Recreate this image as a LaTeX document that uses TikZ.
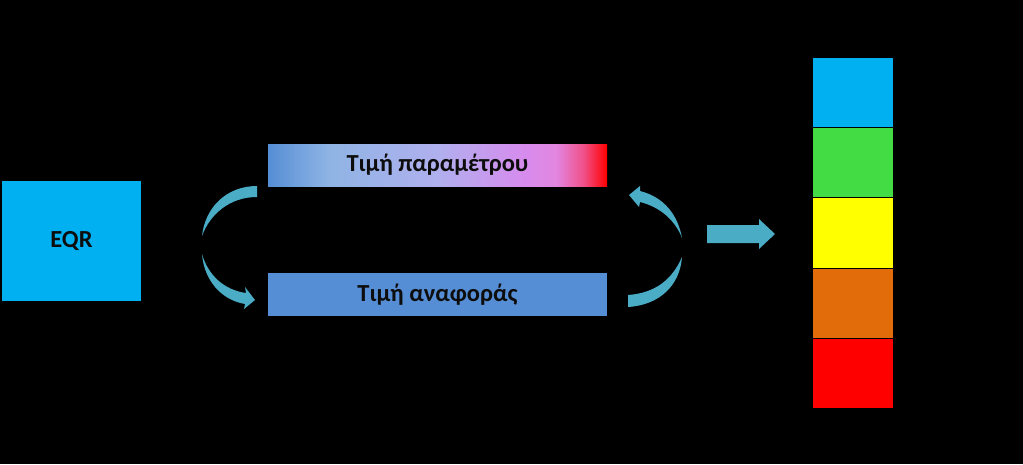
\documentclass[tikz,border=0pt]{standalone}
\usepackage{fontspec}
\setmainfont{Carlito}
\usetikzlibrary{positioning}
\definecolor{eqrblue}{HTML}{00B0F0}
\definecolor{refblue}{HTML}{558ED5}
\definecolor{arrowteal}{HTML}{4BACC6}
\definecolor{cellgreen}{HTML}{44DC44}
\definecolor{cellyellow}{HTML}{FFFF00}
\definecolor{cellorange}{HTML}{E36C0A}
\definecolor{cellred}{HTML}{FF0000}
\pgfdeclarehorizontalshading{paramshade}{100bp}{color(0bp)=(refblue); color(25bp)=(refblue);
  color(34bp)=(rgb,255:red,143;green,180;blue,228); color(50bp)=(rgb,255:red,176;green,176;blue,238);
  color(62.5bp)=(rgb,255:red,214;green,140;blue,238); color(67.5bp)=(rgb,255:red,226;green,134;blue,224);
  color(71.5bp)=(rgb,255:red,240;green,80;blue,138); color(75bp)=(cellred); color(100bp)=(cellred)}
\begin{document}
\begin{tikzpicture}[x=1pt, y=-1pt, font=\bfseries\fontsize{24.5}{29}\selectfont, line join=round,
    box/.style={inner sep=0pt, text=black!95}]
        \fill[black] (0,0) rectangle (1023,464);
        \node[box, fill=eqrblue, minimum width=139pt, minimum height=120pt] (eqr) at (71.5,241) {EQR};
        \node[box, shading=paramshade, minimum width=339pt, minimum height=42pt] (param) at (437.5,165) {Τιμή παραμέτρου};
        \node[box, fill=refblue, minimum width=339pt, minimum height=43pt] (ref) at (437.5,294.5) {Τιμή αναφοράς};
        % colour scale
        \foreach \c [count=\i] in {eqrblue,cellgreen,cellyellow,cellorange,cellred}
            \node[draw=black, line width=0.8pt, fill=\c, minimum width=81pt, minimum height=70.2pt, anchor=north] (cell\i) at (852.5,{57+(\i-1)*70.2}) {};
        % left curved arrow
        \fill[arrowteal] (257,186) .. controls (226,186) and (205,208) .. (202,236) .. controls (210,214) and (230,197) .. (257,197) -- cycle;
        \fill[arrowteal] (202,254) .. controls (208,275) and (224,290) .. (246,293) -- (245,287) -- (255,300) -- (244,309) -- (245,304) .. controls (221,300) and (204,280) .. cycle;
        % right curved arrow
        \fill[arrowteal] (628,307) .. controls (660,305) and (680,285) .. (682,257) .. controls (672,280) and (655,293) .. (628,295) -- cycle;
        \fill[arrowteal] (682,238) .. controls (678,215) and (664,197) .. (640,191) -- (640,186) -- (629,195) -- (639,207) -- (640,202) .. controls (660,207) and (675,220) .. cycle;
        % arrow to scale
        \fill[arrowteal] (707,225) -- (759,225) -- (759,219) -- (775,234) -- (759,249) -- (759,243) -- (707,243) -- cycle;
\end{tikzpicture}
\end{document}
